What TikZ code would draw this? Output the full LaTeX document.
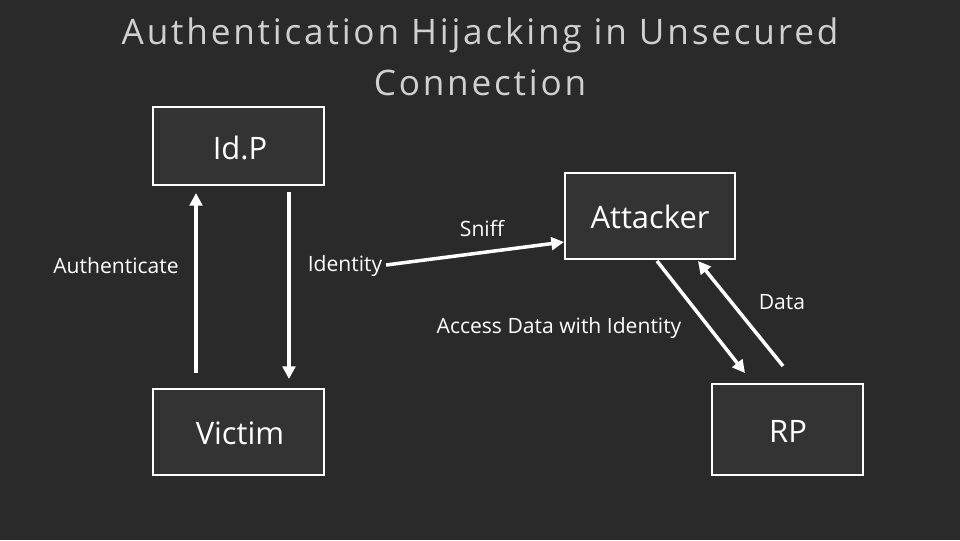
\documentclass[tikz,border=0pt]{standalone}
\usepackage{fontspec}
\setmainfont{Open Sans}
\usetikzlibrary{arrows.meta, positioning}
\definecolor{bgdark}{HTML}{2A2A2A}
\definecolor{boxfill}{HTML}{333333}
\definecolor{titlegrey}{HTML}{D0D0D0}
\tikzset{
  box/.style={draw=white, line width=1.5pt, fill=boxfill, minimum width=4.28cm, text=white, font=\fontsize{22}{26}\selectfont},
  lbl/.style={text=white, font=\fontsize{15}{18}\selectfont},
  arrow/.style={white, line width=2.5pt, -{Triangle[length=9pt, width=9pt]}}
}
\begin{document}
\begin{tikzpicture}[x=0.025cm, y=-0.025cm]
        % Background
        \fill[bgdark] (0,0) rectangle (960,540);
        \useasboundingbox (0,0) rectangle (960,540);

        % Title
        \node[text=titlegrey, align=center, font=\fontsize{25}{36}\selectfont\addfontfeature{LetterSpace=8}] (title) at (480,57) {Authentication Hijacking in Unsecured\\Connection};

        % Boxes
        \draw[box] (153,107) rectangle (324,185);
        \node[text=white, font=\fontsize{22}{26}\selectfont] (idp) at (240,148) {Id.P};
        \draw[box] (565,173) rectangle (735,259);
        \node[text=white, font=\fontsize{22}{26}\selectfont] (attacker) at (650,217) {Attacker};
        \draw[box] (153,389) rectangle (324,475);
        \node[text=white, font=\fontsize{22}{26}\selectfont] (victim) at (240,433) {Victim};
        \draw[box] (712,384) rectangle (863,475);
        \node[text=white, font=\fontsize{22}{26}\selectfont] (rp) at (788,431) {RP};

        % Arrow ends
        \coordinate (authS) at (196,373);
        \coordinate (authE) at (196,193);
        \coordinate (idS) at (289,192);
        \coordinate (idE) at (289,379);
        \coordinate (sniffS) at (386,265);
        \coordinate (sniffE) at (564,242);
        \coordinate (accS) at (657,261);
        \coordinate (accE) at (745,373);
        \coordinate (dataS) at (783,366);
        \coordinate (dataE) at (698,261);

        % Arrows
        \draw[arrow] (authS) -- (authE);
        \draw[arrow] (idS) -- (idE);
        \draw[arrow] (sniffS) -- (sniffE);
        \draw[arrow] (accS) -- (accE);
        \draw[arrow] (dataS) -- (dataE);

        % Labels
        \node[lbl] (authlbl) at (116,266) {Authenticate};
        \node[lbl] (idlbl) at (345,266) {Identity};
        \node[lbl] (snifflbl) at (482,229) {Sniff};
        \node[lbl] (acclbl) at (559,328) {Access Data with Identity};
        \node[lbl] (datalbl) at (782,302) {Data};
    \end{tikzpicture}
\end{document}
